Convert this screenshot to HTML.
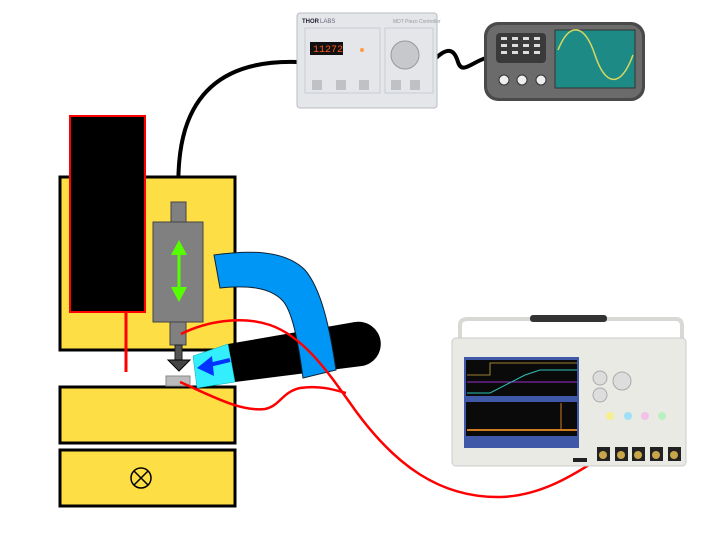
<!DOCTYPE html>
<html><head><meta charset="utf-8"><style>
html,body{margin:0;padding:0;background:#fff;width:721px;height:534px;overflow:hidden}
svg{display:block}
</style></head><body>
<svg width="721" height="534" viewBox="0 0 721 534" xmlns="http://www.w3.org/2000/svg" font-family="Liberation Sans, sans-serif">
<!-- cable from controller to actuator -->
<path d="M298,62 C240,60 200,80 185,130 C179,150 178,170 178,202" fill="none" stroke="#000" stroke-width="4"/>
<!-- cable controller to scope icon -->
<path d="M436,58 C450,45 455,52 458,62 C462,75 472,62 486,58" fill="none" stroke="#000" stroke-width="4"/>
<!-- top yellow block -->
<rect x="60" y="177" width="175" height="173" fill="#fdde45" stroke="#000" stroke-width="3"/>
<rect x="70" y="116" width="75" height="196" fill="#000" stroke="#f00" stroke-width="2"/>
<line x1="126" y1="312" x2="126" y2="372" stroke="#f00" stroke-width="3"/>
<!-- actuator -->
<rect x="171" y="202" width="15" height="20" fill="#808080" stroke="#444"/>
<rect x="153" y="222" width="50" height="100" fill="#808080" stroke="#444"/>
<rect x="170" y="322" width="16" height="23" fill="#808080" stroke="#444"/>
<rect x="175" y="345" width="7" height="15" fill="#555" stroke="#222"/>
<path d="M168,360 L190,360 L179,371 Z" fill="#444" stroke="#000"/>
<line x1="179" y1="250" x2="179" y2="292" stroke="#55ff00" stroke-width="3"/>
<path d="M171,255 L179,240 L187,255 Z M171,287 L179,302 L187,287 Z" fill="#55ff00"/>
<!-- lower blocks -->
<rect x="60" y="387" width="175" height="56" fill="#fdde45" stroke="#000" stroke-width="3"/>
<rect x="60" y="450" width="175" height="56" fill="#fdde45" stroke="#000" stroke-width="3"/>
<circle cx="141" cy="478" r="10" fill="none" stroke="#000" stroke-width="1.5"/>
<path d="M134,471 L148,485 M148,471 L134,485" stroke="#000" stroke-width="1.5"/>
<!-- sample -->
<rect x="166" y="376" width="24" height="10" fill="#bbb" stroke="#888"/>
<!-- black cylinder -->
<path d="M228,344 L355,322 A22,22 0 0 1 362,366 L235,382 Z" fill="#000"/>
<!-- blue pipe -->
<path d="M214,255 C250,250 285,250 305,270 C322,290 330,330 336,370 L303,378 C298,340 292,310 282,300 C270,288 250,285 220,288 Z" fill="#0096f5" stroke="#123" stroke-width="1"/>
<!-- cyan tip -->
<path d="M193,356 L228,344 L235,382 L197,388 Z" fill="#33eefd" stroke="#0aa" stroke-width="0.5"/>
<line x1="230" y1="360" x2="205" y2="366" stroke="#0033ff" stroke-width="4"/>
<path d="M197,368 L212,356 L214,376 Z" fill="#0033ff"/>
<!-- red wires -->
<path d="M181,334 C205,322 240,315 270,325 C305,337 330,375 355,410 C395,465 440,498 500,497 C545,496 580,470 602,457" fill="none" stroke="#f00" stroke-width="2.5"/>
<path d="M180,382 C210,395 240,412 265,409 C280,406 282,392 300,388 C320,385 335,390 346,393" fill="none" stroke="#f00" stroke-width="2.5"/>
<!-- top controller -->
<rect x="297" y="13" width="140" height="95" rx="3" fill="#e4e6ea" stroke="#b8bcc2"/>
<text x="302" y="23" font-size="6" font-weight="bold" fill="#223">THOR</text><text x="320" y="23" font-size="6" fill="#667">LABS</text>
<text x="393" y="23" font-size="5" fill="#999">MDT Piezo Controller</text>
<rect x="305" y="28" width="75" height="65" fill="none" stroke="#c8ccd2"/>
<rect x="385" y="28" width="48" height="65" fill="none" stroke="#c8ccd2"/>
<rect x="310" y="42" width="33" height="13" fill="#111"/>
<text x="313" y="52" font-size="10" fill="#ff5a1a" font-family="Liberation Mono, monospace">11272</text>
<circle cx="362" cy="50" r="2" fill="#ff9a40"/>
<circle cx="405" cy="55" r="14" fill="#c6c8cc" stroke="#999"/>
<g fill="#bfc1c5"><rect x="312" y="80" width="10" height="10"/><rect x="336" y="80" width="10" height="10"/><rect x="359" y="80" width="10" height="10"/><rect x="391" y="80" width="10" height="10"/><rect x="410" y="80" width="10" height="10"/></g>
<!-- scope icon -->
<rect x="484" y="22" width="161" height="79" rx="14" fill="#4a4a4a"/>
<rect x="487" y="25" width="155" height="73" rx="12" fill="#6b6b6b"/>
<rect x="496" y="33" width="50" height="30" rx="4" fill="#3a3a3a"/>
<g fill="#ddd"><rect x="501" y="37" width="6" height="3"/><rect x="512" y="37" width="6" height="3"/><rect x="523" y="37" width="6" height="3"/><rect x="534" y="37" width="6" height="3"/><rect x="501" y="44" width="6" height="3"/><rect x="512" y="44" width="6" height="3"/><rect x="523" y="44" width="6" height="3"/><rect x="534" y="44" width="6" height="3"/><rect x="501" y="51" width="6" height="3"/><rect x="512" y="51" width="6" height="3"/><rect x="523" y="51" width="6" height="3"/><rect x="534" y="51" width="6" height="3"/></g>
<g fill="#eee" stroke="#333"><circle cx="504" cy="80" r="5"/><circle cx="522" cy="80" r="5"/><circle cx="541" cy="80" r="5"/></g>
<rect x="555" y="30" width="80" height="58" fill="#1e8a86" stroke="#333"/>
<path d="M558,50 C570,20 585,25 595,55 C605,85 620,90 633,55" fill="none" stroke="#d8d860" stroke-width="1.5"/>
<!-- bottom scope -->
<path d="M460,338 L460,325 Q460,319 468,319 L676,319 Q682,319 682,326 L682,338" fill="none" stroke="#d7d9d5" stroke-width="4"/>
<rect x="530" y="315" width="77" height="7" rx="3" fill="#333"/>
<rect x="452" y="338" width="234" height="128" rx="4" fill="#e9eae4" stroke="#ccc"/>
<rect x="464" y="357" width="115" height="91" fill="#4058a8"/>
<rect x="466" y="360" width="111" height="36" fill="#0a0a0a"/>
<rect x="466" y="402" width="111" height="34" fill="#0a0a0a"/>
<path d="M467,375 L490,375 L490,363 L577,363" fill="none" stroke="#c9a43c" stroke-width="0.8"/>
<path d="M467,382 L577,382" stroke="#9a2dd0" stroke-width="1"/>
<path d="M467,393 L490,393 L525,375 L540,370 L577,370" fill="none" stroke="#2cc2b8" stroke-width="1"/>
<path d="M467,430 L577,430" stroke="#d07a20" stroke-width="2"/>
<line x1="561" y1="403" x2="561" y2="430" stroke="#d07a20"/>
<circle cx="600" cy="378" r="7" fill="#ddd" stroke="#aaa"/><circle cx="600" cy="395" r="7" fill="#ddd" stroke="#aaa"/>
<circle cx="622" cy="381" r="9" fill="#ddd" stroke="#aaa"/>
<g fill="#f6ef90"><circle cx="610" cy="416" r="4"/></g><g fill="#9ee0f5"><circle cx="628" cy="416" r="4"/></g><g fill="#f3c2e8"><circle cx="645" cy="416" r="4"/></g><g fill="#b8f0c0"><circle cx="662" cy="416" r="4"/></g>
<g fill="#222"><rect x="597" y="447" width="13" height="14"/><rect x="615" y="447" width="13" height="14"/><rect x="632" y="447" width="13" height="14"/><rect x="650" y="447" width="13" height="14"/><rect x="668" y="447" width="13" height="14"/></g>
<g fill="#c9a64a"><circle cx="603" cy="455" r="4"/><circle cx="621" cy="455" r="4"/><circle cx="638" cy="455" r="4"/><circle cx="656" cy="455" r="4"/><circle cx="674" cy="455" r="4"/></g>
<rect x="573" y="458" width="14" height="4" fill="#222"/>
</svg>
</body></html>
